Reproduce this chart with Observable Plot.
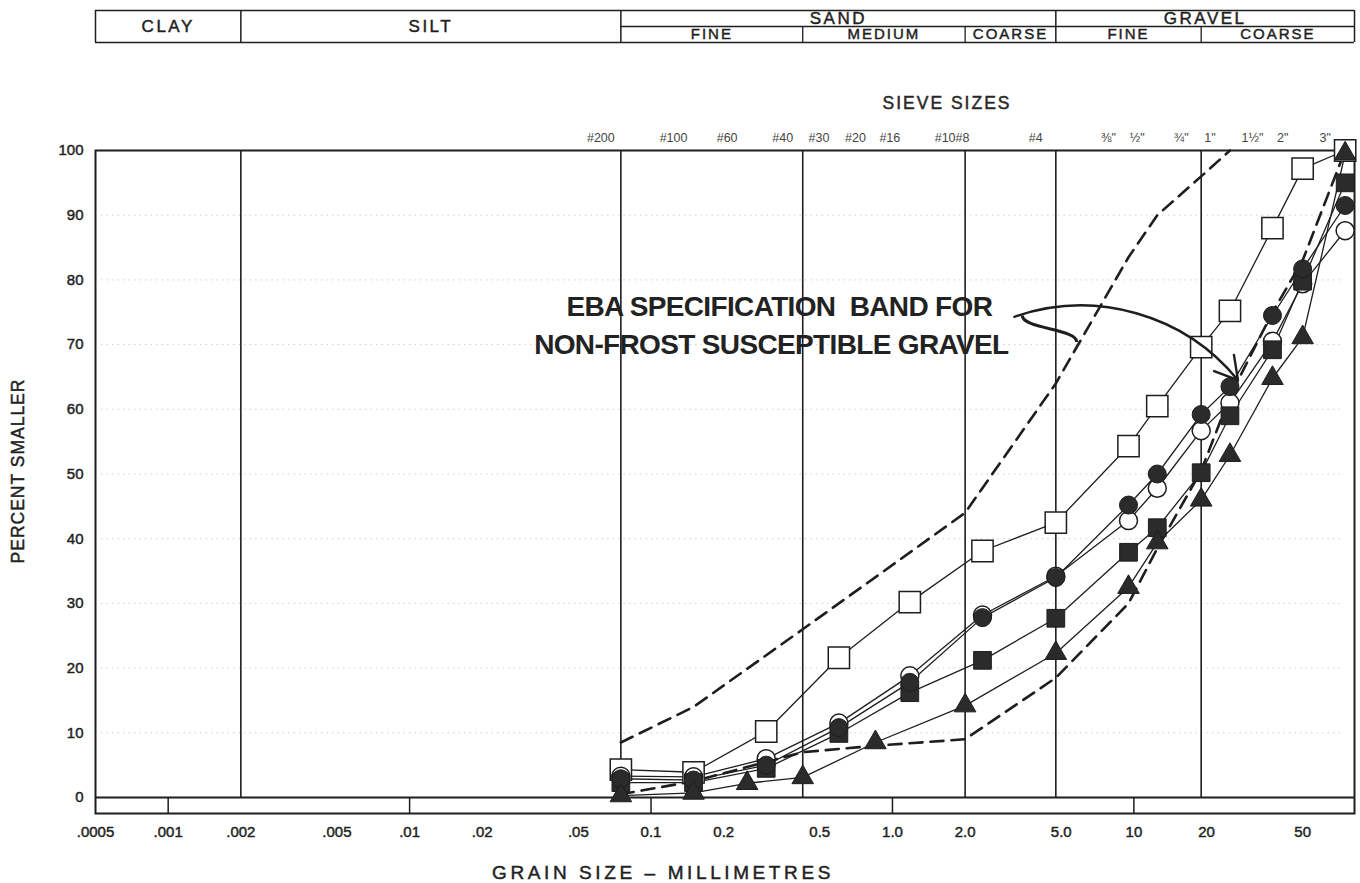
<!DOCTYPE html>
<html>
<head>
<meta charset="utf-8">
<script src="https://cdn.jsdelivr.net/npm/d3@7"></script>
<script src="https://cdn.jsdelivr.net/npm/@observablehq/plot@0.6"></script>
<style>
  html, body { margin: 0; padding: 0; background: #fff; }
  #chart svg { display: block; }
</style>
</head>
<body>
<div id="chart"></div>
<script>
// ---- tick labels ----
const xTicks = [0.0005, 0.001, 0.002, 0.005, 0.01, 0.02, 0.05, 0.1, 0.2, 0.5, 1, 2, 5, 10, 20, 50];
const xTickLabels = [".0005", ".001", ".002", ".005", ".01", ".02", ".05", "0.1", "0.2", "0.5", "1.0", "2.0", "5.0", "10", "20", "50"];
const yTicks = [0, 10, 20, 30, 40, 50, 60, 70, 80, 90, 100];
const decadeMarks = [0.001, 0.01, 0.1, 1, 10];
const sieveSizes = [0.075, 0.15, 0.25, 0.425, 0.6, 0.85, 1.18, 2.0, 2.36, 4.75, 9.5, 12.5, 19, 25, 37.5, 50, 75];
const sieveLabels = ["#200", "#100", "#60", "#40", "#30", "#20", "#16", "#10", "#8", "#4", "⅜\"", "½\"", "¾\"", "1\"", "1½\"", "2\"", "3\""];

// ---- soil classification boundaries (mm) ----
const classBounds = [0.002, 0.075, 0.425, 2.0, 4.75, 19];
const headerMain = [
  {label: "CLAY", from: 0.0005, to: 0.002},
  {label: "SILT", from: 0.002, to: 0.075}
];
const headerGroup = [
  {label: "SAND", from: 0.075, to: 4.75},
  {label: "GRAVEL", from: 4.75, to: 82}
];
const headerSub = [
  {label: "FINE", from: 0.075, to: 0.425},
  {label: "MEDIUM", from: 0.425, to: 2.0},
  {label: "COARSE", from: 2.0, to: 4.75},
  {label: "FINE", from: 4.75, to: 19},
  {label: "COARSE", from: 19, to: 82}
];
const headerFullDividers = [0.0005, 0.002, 0.075, 4.75, 82];
const headerSubDividers = [0.425, 2.0, 19];

// ---- sieve sizes used by the samples (mm) ----
const sievesA = [0.075, 0.15, 0.3, 0.6, 1.18, 2.36, 4.75, 9.5, 12.5, 19, 25, 37.5, 50, 75];
const sievesB = [0.075, 0.15, 0.25, 0.425, 0.85, 2.0, 4.75, 9.5, 12.5, 19, 25, 37.5, 50, 75];

// ---- percent smaller per sample ----
const openSquare   = [4.3, 3.9, 10.2, 21.6, 30.2, 38.1, 42.5, 54.3, 60.5, 69.6, 75.2, 88.0, 97.2, 100];
const openCircle   = [3.3, 3.2, 6.0, 11.5, 18.8, 28.2, 34.2, 42.8, 47.8, 56.7, 61.0, 70.5, 79.4, 87.6];
const filledCircle = [2.9, 2.7, 5.0, 10.8, 17.8, 27.8, 34.0, 45.2, 50.0, 59.2, 63.5, 74.5, 81.7, 91.5];
const filledSquare = [2.3, 2.3, 4.5, 9.9, 16.2, 21.2, 27.7, 37.9, 41.7, 50.2, 59.0, 69.2, 79.8, 95.0];
const triangle     = [0.3, 0.7, 2.2, 3.1, 8.5, 14.2, 22.3, 32.5, 39.4, 46.0, 52.9, 64.8, 71.1, 99.5];

// ---- EBA specification band ----
const bandUpperSizes = [0.075, 0.15, 0.425, 2.0, 4.75, 9.5, 12.5, 19, 25];
const bandUpperPct   = [8.5, 14.0, 26.0, 44.0, 64.0, 83.5, 90.0, 96.0, 100];
const bandLowerSizes = [0.075, 0.15, 0.3, 0.425, 0.85, 2.0, 4.75, 9.5, 12.5, 19, 25, 37.5, 50, 75];
const bandLowerPct   = [0.5, 2.5, 5.5, 7.0, 8.0, 9.0, 18.5, 30.0, 38.5, 50.5, 62.0, 75.0, 83.0, 100];

// ---- annotation ----
const annotationLines = ["EBA SPECIFICATION  BAND FOR", "NON-FROST SUSCEPTIBLE GRAVEL"];
const annotationSize = [0.34, 0.315];
const annotationPct = [75.8, 70.0];
const arrowFrom = {size: 3.2, pct: 74.3};
const arrowTo = {size: 27.0, pct: 64.5};
const hookFrom = {size: 3.45, pct: 74.5};
const hookTo = {size: 5.8, pct: 70.4};

const rows = (sizes, vals) => sizes.map((s, i) => ({size: s, pct: vals[i]}));
const gm = d => Math.sqrt(d.from * d.to);

const ink = "#1e1e1e";
const font = "'Liberation Sans', Arial, sans-serif";

const seriesLines = [
  rows(sievesA, openSquare), rows(sievesA, openCircle), rows(sievesA, filledCircle),
  rows(sievesA, filledSquare), rows(sievesB, triangle)
];

const plot = Plot.plot({
  width: 1360,
  height: 883,
  marginLeft: 95,
  marginRight: 6,
  marginTop: 150,
  marginBottom: 86,
  style: {fontFamily: font, background: "#fff", color: ink},
  x: {type: "log", domain: [0.0005, 82], axis: null},
  y: {domain: [0, 100], axis: null},
  marks: [
    // faint dotted horizontals
    Plot.ruleY(yTicks.slice(1, -1), {stroke: "#999", strokeOpacity: 0.45, strokeDasharray: "1.5,4", insetLeft: 6, insetRight: 14}),
    // class boundaries
    Plot.ruleX(classBounds, {stroke: ink, strokeWidth: 1.6}),
    // zero line, frame with bottom band, decade marks in band
    Plot.ruleY([0], {stroke: ink, strokeWidth: 2}),
    Plot.frame({stroke: ink, strokeWidth: 2, insetBottom: -16}),
    Plot.ruleX(decadeMarks, {stroke: ink, strokeWidth: 1.5, insetTop: 647, insetBottom: -16}),

    // axes
    Plot.axisY({ticks: yTicks, tickSize: 0, tickPadding: 12, fontSize: 15, label: null, fill: ink}),
    Plot.text(xTicks, {x: d => d, text: (d, i) => xTickLabels[i], frameAnchor: "bottom", lineAnchor: "middle", dy: 35, fontSize: 15, fill: ink}),
    Plot.text(["PERCENT SMALLER"], {text: d => d, frameAnchor: "left", textAnchor: "middle", lineAnchor: "middle", dx: -77, dy: -3, rotate: -90, fontSize: 17.5, fill: "#222"}),
    Plot.text(["GRAIN SIZE – MILLIMETRES"], {text: d => d, frameAnchor: "bottom", lineAnchor: "middle", dx: -62, dy: 75, fontSize: 19, fill: "#222"}),

    // sieve sizes along the top
    Plot.text(["SIEVE SIZES"], {text: d => d, frameAnchor: "top", lineAnchor: "middle", dx: 222, dy: -47, fontSize: 17.5, fill: "#2a2a2a"}),
    Plot.text(sieveSizes, {x: d => d, text: (d, i) => sieveLabels[i], frameAnchor: "top", lineAnchor: "middle", dx: -20, dy: -13, fontSize: 12.5, fill: "#444"}),

    // header classification table
    Plot.ruleY([100], {dy: -140, stroke: ink, strokeWidth: 1.5}),
    Plot.ruleY([100], {dy: -108, stroke: ink, strokeWidth: 1.5}),
    Plot.ruleY([100], {x1: 0.075, x2: 82, dy: -124, stroke: ink, strokeWidth: 1.3}),
    Plot.ruleX(headerFullDividers, {insetTop: -140, insetBottom: 755, stroke: ink, strokeWidth: 1.5}),
    Plot.ruleX(headerSubDividers, {insetTop: -124, insetBottom: 755, stroke: ink, strokeWidth: 1.3}),
    Plot.text(headerMain, {x: gm, text: "label", frameAnchor: "top", lineAnchor: "middle", dy: -124, fontSize: 17, fill: ink}),
    Plot.text(headerGroup, {x: gm, text: "label", frameAnchor: "top", lineAnchor: "middle", dy: -132, fontSize: 17, fill: ink}),
    Plot.text(headerSub, {x: gm, text: "label", frameAnchor: "top", lineAnchor: "middle", dy: -116, fontSize: 15, fill: ink}),

    // sample curves
    ...seriesLines.map(data => Plot.line(data, {x: "size", y: "pct", stroke: ink, strokeWidth: 1.3})),

    // specification band
    Plot.line(rows(bandUpperSizes, bandUpperPct), {x: "size", y: "pct", stroke: ink, strokeWidth: 2.6, strokeDasharray: "13,8"}),
    Plot.line(rows(bandLowerSizes, bandLowerPct), {x: "size", y: "pct", stroke: ink, strokeWidth: 2.6, strokeDasharray: "13,8"}),

    // markers
    Plot.dot(rows(sievesA, openSquare), {x: "size", y: "pct", symbol: "square", r: 12, fill: "#fff", stroke: ink, strokeWidth: 1.5}),
    Plot.dot(rows(sievesA, openCircle), {x: "size", y: "pct", symbol: "circle", r: 9, fill: "#fff", stroke: ink, strokeWidth: 1.5}),
    Plot.dot(rows(sievesA, filledSquare), {x: "size", y: "pct", symbol: "square", r: 10, fill: "#2b2b2b", stroke: ink, strokeWidth: 1}),
    Plot.dot(rows(sievesA, filledCircle), {x: "size", y: "pct", symbol: "circle", r: 9, fill: "#2b2b2b", stroke: ink, strokeWidth: 1}),
    Plot.dot(rows(sievesB, triangle), {x: "size", y: "pct", symbol: "triangle", r: 8, fill: "#2b2b2b", stroke: ink, strokeWidth: 1}),

    // annotation
    Plot.text(annotationLines, {x: (d, i) => annotationSize[i], y: (d, i) => annotationPct[i], text: d => d, fontSize: 28, fontWeight: "bold", fill: "#222"}),
    Plot.arrow([arrowFrom], {x1: "size", y1: "pct", x2: () => arrowTo.size, y2: () => arrowTo.pct, bend: 35, stroke: ink, strokeWidth: 2.4, headLength: 16}),
    Plot.link([hookFrom], {x1: "size", y1: "pct", x2: () => hookTo.size, y2: () => hookTo.pct, curve: "bump-y", stroke: ink, strokeWidth: 3.2})
  ]
});

// letter spacing for the spaced capital labels, and a slight thickening like the printed original
const spacing = new Map([
  ["CLAY", 2.5], ["SILT", 2.5], ["SAND", 2.5], ["GRAVEL", 2.5], ["FINE", 2], ["MEDIUM", 2], ["COARSE", 2],
  ["SIEVE SIZES", 2], ["PERCENT SMALLER", 1], ["GRAIN SIZE – MILLIMETRES", 3.6],
  ["EBA SPECIFICATION  BAND FOR", -0.65], ["NON-FROST SUSCEPTIBLE GRAVEL", -0.65]
]);
const thicken = new Set(["CLAY", "SILT", "SAND", "GRAVEL", "FINE", "MEDIUM", "COARSE", "SIEVE SIZES", "PERCENT SMALLER", "GRAIN SIZE – MILLIMETRES"]);
d3.select(plot).selectAll("text").each(function () {
  const t = this.textContent;
  const s = spacing.get(t);
  if (s !== undefined) this.style.letterSpacing = s + "px";
  if (thicken.has(t) || xTickLabels.includes(t) || yTicks.map(String).includes(t)) {
    this.style.stroke = "#222";
    this.style.strokeWidth = "0.45px";
  }
});

document.getElementById("chart").appendChild(plot);
</script>
</body>
</html>
